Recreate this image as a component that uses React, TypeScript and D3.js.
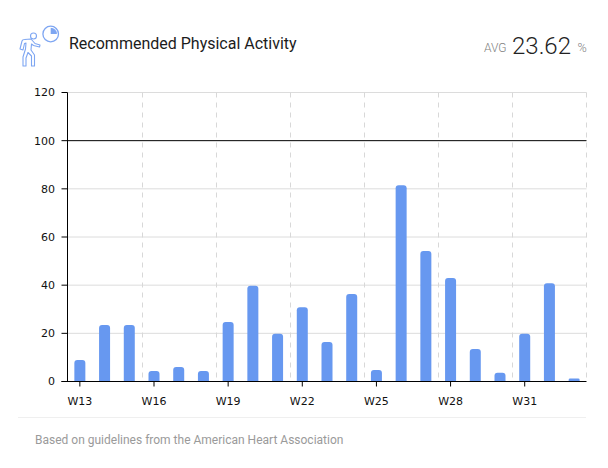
import * as d3 from "d3";

const weeks = ["W13","W14","W15","W16","W17","W18","W19","W20","W21","W22","W23","W24","W25","W26","W27","W28","W29","W30","W31","W32","W33"];
const activity = [8.9,23.5,23.5,4.4,6,4.4,24.7,39.8,19.8,30.8,16.4,36.3,4.8,81.5,54.2,43,13.5,3.6,19.8,40.8,1.2];
const yTicks = [0,20,40,60,80,100,120];
const weekLabels = weeks.filter((_, i) => i % 3 === 0);
const target = 100;

const width = 608;
const height = 468;
const margin = { top: 92.5, right: 21.5, bottom: 86.5, left: 67.5 };
const axisFont = "'DejaVu Sans', sans-serif";

function ActivityIcon() {
  const blue = "#7ea6f2";
  return (
    <g transform="translate(19,25)" fill="none" stroke={blue} strokeWidth={1.1} strokeLinejoin="round" strokeLinecap="round">
      <circle cx={14.5} cy={11} r={3} />
      <path d="M1 24 L3 16 Q3.5 14.5 5.5 14.5 L12 14 L16 18.5 L21 20 L20.5 22 L14.5 20.5 L12.5 19 L12 25 L15.5 30 L15.5 41 L12.5 41 L12.5 31 L9 27.5 L7 33 L7 41 L4 41 L4 32 L6.5 24 L7 18 L5.5 18.5 L4 25 Z" />
      <circle cx={31.7} cy={9} r={7.8} strokeWidth={1.3} />
      <path d="M31.7 9 L31.7 2.8 A6.2 6.2 0 0 1 37.9 9 Z" fill={blue} stroke="none" />
    </g>
  );
}

export default function App() {
  const x = d3
    .scaleBand<string>()
    .domain(weeks)
    .range([margin.left, width - margin.right]);
  const y = d3
    .scaleLinear()
    .domain([0, 120])
    .range([height - margin.bottom, margin.top]);

  const barWidth = 11;
  const bottom = y(0);

  // dashed separators sit on the band edge before every labelled week
  const separators = weekLabels.slice(1).map((w) => Math.round(x(w)!) + 0.5);
  separators.push(width - margin.right);

  return (
    <svg
      width={width}
      height={height}
      viewBox={`0 0 ${width} ${height}`}
      style={{ position: "absolute", left: 0, top: 0, background: "#fff" }}
    >
      <ActivityIcon />
      <text x={69} y={49} fontFamily="Roboto, sans-serif" fontSize={16} fill="#1c1c1c">
        Recommended Physical Activity
      </text>
      <text x={484} y={52} fontFamily="Roboto, sans-serif" fontSize={12} fontWeight={300} fill="#808080">
        AVG
      </text>
      <text x={512} y={54} fontFamily="Roboto, sans-serif" fontSize={24} fontWeight={300} fill="#222">
        23.62
      </text>
      <text x={577.5} y={52} fontFamily="Roboto, sans-serif" fontSize={12.5} fontWeight={300} fill="#808080">
        %
      </text>

      {yTicks.filter((t) => t !== target && t !== 0).map((t) => (
        <line key={t} x1={margin.left} x2={width - margin.right} y1={y(t)} y2={y(t)} stroke="#dcdcdc" strokeWidth={1} />
      ))}
      {separators.map((sx) => (
        <line key={sx} x1={sx} x2={sx} y1={margin.top} y2={bottom} stroke="#d8d8d8" strokeWidth={1} strokeDasharray="5 5" />
      ))}

      {activity.map((v, i) => {
        const cx = x(weeks[i])! + x.bandwidth() / 2;
        const top = y(v);
        const r = Math.min(3, (bottom - top) / 2);
        return (
          <path
            key={weeks[i]}
            d={`M${cx - barWidth / 2} ${bottom} V${top + r} Q${cx - barWidth / 2} ${top} ${cx - barWidth / 2 + r} ${top} H${cx + barWidth / 2 - r} Q${cx + barWidth / 2} ${top} ${cx + barWidth / 2} ${top + r} V${bottom} Z`}
            fill="#6798f0"
          />
        );
      })}

      <line x1={margin.left} x2={width - margin.right} y1={y(target)} y2={y(target)} stroke="#000" strokeWidth={1} />
      <line x1={margin.left} x2={margin.left} y1={margin.top} y2={bottom} stroke="#000" strokeWidth={1} />
      <line x1={margin.left - 6} x2={width - margin.right} y1={bottom} y2={bottom} stroke="#000" strokeWidth={1} />

      {yTicks.map((t) => (
        <g key={t}>
          <line x1={margin.left - 6} x2={margin.left} y1={y(t)} y2={y(t)} stroke="#000" strokeWidth={1} />
          <text x={55} y={y(t)} dy="0.35em" textAnchor="end" fontFamily={axisFont} fontSize={11} fill="#111">
            {t}
          </text>
        </g>
      ))}

      {weekLabels.map((w) => {
        const cx = x(w)! + x.bandwidth() / 2;
        return (
          <g key={w}>
            <line x1={cx} x2={cx} y1={bottom} y2={bottom + 5} stroke="#000" strokeWidth={1} />
            <text x={cx} y={405} textAnchor="middle" fontFamily={axisFont} fontSize={11} fill="#111">
              {w}
            </text>
          </g>
        );
      })}

      <line x1={18} x2={586} y1={417.5} y2={417.5} stroke="#efefef" strokeWidth={1} />
      <text x={35} y={444} fontFamily="Roboto, sans-serif" fontSize={12} fill="#9a9a9a">
        Based on guidelines from the American Heart Association
      </text>
    </svg>
  );
}
